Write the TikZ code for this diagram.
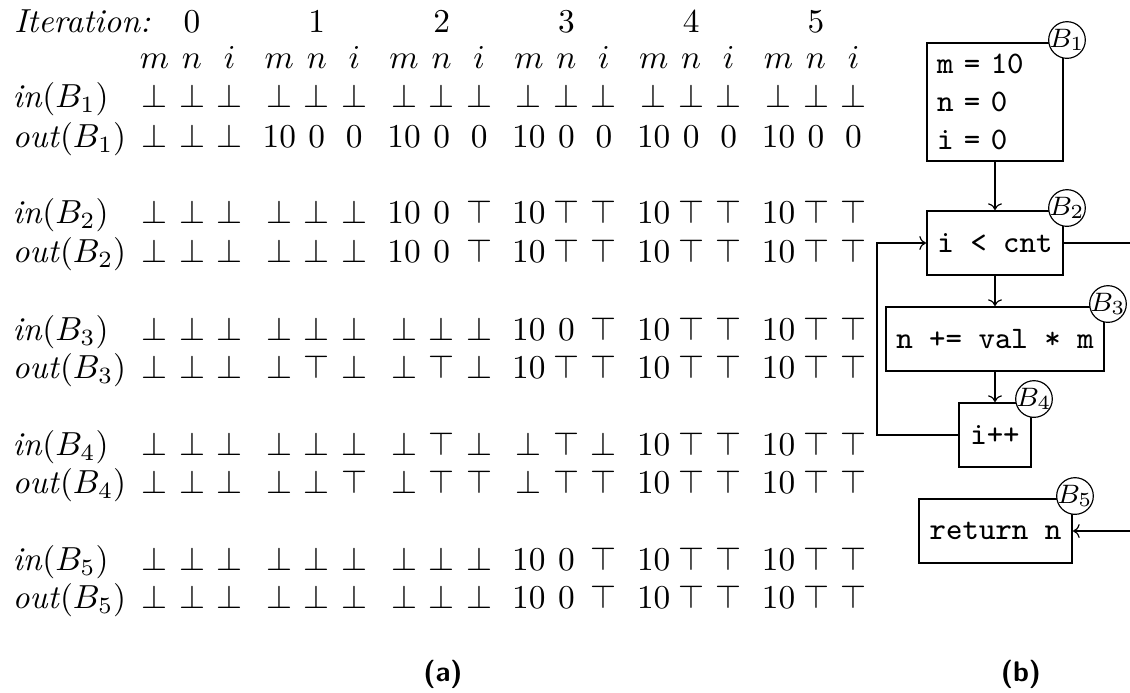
\documentclass[tikz,border=0pt]{standalone}
\usetikzlibrary{arrows.meta}
\begin{document}
\begin{tikzpicture}[x=0.3pt,y=-0.3pt,
  tcell/.style={anchor=base,inner sep=0pt,font=\fontsize{10}{12}\selectfont},
  rowlab/.style={anchor=base west,inner sep=0pt,font=\fontsize{10}{12}\selectfont},
  blk/.style={draw,line width=0.6pt,inner sep=0pt,minimum height=19.2pt,font=\ttfamily\fontsize{9.4}{11.4}\selectfont},
  btag/.style={circle,draw,line width=0.35pt,fill=white,inner sep=0pt,minimum size=11pt,font=\fontsize{8.5}{10}\selectfont},
  conn/.style={line width=0.35pt,-{To[length=2pt]}},
  wire/.style={line width=0.35pt},
  subcap/.style={inner sep=0pt,font=\sffamily\bfseries\fontsize{8.5}{10}\selectfont}
]
\useasboundingbox (0,0) rectangle (1130,692);

% header
\node[rowlab,anchor=base east] (iter) at (151,32) {\itshape Iteration:};
\foreach \g in {0,...,5} {
  \node[tcell] (it\g) at ({192+124.8*\g},32) {\g};
  \node[tcell] (vm\g) at ({154.5+124.8*\g},68) {$m$};
  \node[tcell] (vn\g) at ({192+124.8*\g},68) {$n$};
  \node[tcell] (vi\g) at ({229.5+124.8*\g},68) {$i$};
}

% table rows
\foreach \q/\yi/\yo/\vin/\vout in {
 1/107/147/{\bot,\bot,\bot,\bot,\bot,\bot,\bot,\bot,\bot,\bot,\bot,\bot,\bot,\bot,\bot,\bot,\bot,\bot}/{\bot,\bot,\bot,10,0,0,10,0,0,10,0,0,10,0,0,10,0,0},
 2/223/262/{\bot,\bot,\bot,\bot,\bot,\bot,10,0,\top,10,\top,\top,10,\top,\top,10,\top,\top}/{\bot,\bot,\bot,\bot,\bot,\bot,10,0,\top,10,\top,\top,10,\top,\top,10,\top,\top},
 3/340/378/{\bot,\bot,\bot,\bot,\bot,\bot,\bot,\bot,\bot,10,0,\top,10,\top,\top,10,\top,\top}/{\bot,\bot,\bot,\bot,\top,\bot,\bot,\top,\bot,10,\top,\top,10,\top,\top,10,\top,\top},
 4/455/493/{\bot,\bot,\bot,\bot,\bot,\bot,\bot,\top,\bot,\bot,\top,\bot,10,\top,\top,10,\top,\top}/{\bot,\bot,\bot,\bot,\bot,\top,\bot,\top,\top,\bot,\top,\top,10,\top,\top,10,\top,\top},
 5/570/608/{\bot,\bot,\bot,\bot,\bot,\bot,\bot,\bot,\bot,10,0,\top,10,\top,\top,10,\top,\top}/{\bot,\bot,\bot,\bot,\bot,\bot,\bot,\bot,\bot,10,0,\top,10,\top,\top,10,\top,\top}} {
  \node[rowlab] (in\q) at (12,\yi) {\textit{in}$(B_{\q})$};
  \node[rowlab] (out\q) at (12,\yo) {\textit{out}$(B_{\q})$};
  \foreach \v [count=\k] in \vin {
    \pgfmathsetmacro\xx{154.5+124.8*int((\k-1)/3)+37.5*mod(\k-1,3)}
    \node[tcell] (ci\q-\k) at (\xx,\yi) {$\v$};
  }
  \foreach \v [count=\k] in \vout {
    \pgfmathsetmacro\xx{154.5+124.8*int((\k-1)/3)+37.5*mod(\k-1,3)}
    \node[tcell] (co\q-\k) at (\xx,\yo) {$\v$};
  }
}

% flow graph
\node[blk,minimum width=40.8pt,minimum height=35.4pt,inner xsep=3pt,text width=34.8pt,align=left] (B1) at (995,102) {m = 10\\n = 0\\i = 0};
\node[blk,minimum width=40.8pt] (B2) at (995,243) {i < cnt};
\node[blk,minimum width=65.4pt] (B3) at (995,339) {n += val * m};
\node[blk,minimum width=21.6pt] (B4) at (995,435) {i++};
\node[blk,minimum width=45.9pt] (B5) at (995.5,531) {return n};

\node[btag] (t1) at ([shift={(3,-2)}]B1.north east) {\makebox[0pt]{$B_1$}};
\node[btag] (t2) at ([shift={(3,-2)}]B2.north east) {\makebox[0pt]{$B_2$}};
\node[btag] (t3) at ([shift={(3,-2)}]B3.north east) {\makebox[0pt]{$B_3$}};
\node[btag] (t4) at ([shift={(2,-3)}]B4.north east) {\makebox[0pt]{$B_4$}};
\node[btag] (t5) at ([shift={(2,-2)}]B5.north east) {\makebox[0pt]{$B_5$}};

\draw[conn] (B1.south) -- (B2.north);
\draw[conn] (B2.south) -- (B3.north);
\draw[conn] (B3.south) -- (B4.north);
\coordinate (Lx) at (877,435);
\draw[conn] (B4.west) -- (Lx) |- (B2.west);
\coordinate (Rx) at (1150,243);
\draw[wire] (B2.east) -- (Rx);
\draw[conn] (Rx) |- (B5.east);

% captions
\node[subcap] (capa) at (443,674) {(a)};
\node[subcap] (capb) at (1021,674) {(b)};
\end{tikzpicture}
\end{document}
